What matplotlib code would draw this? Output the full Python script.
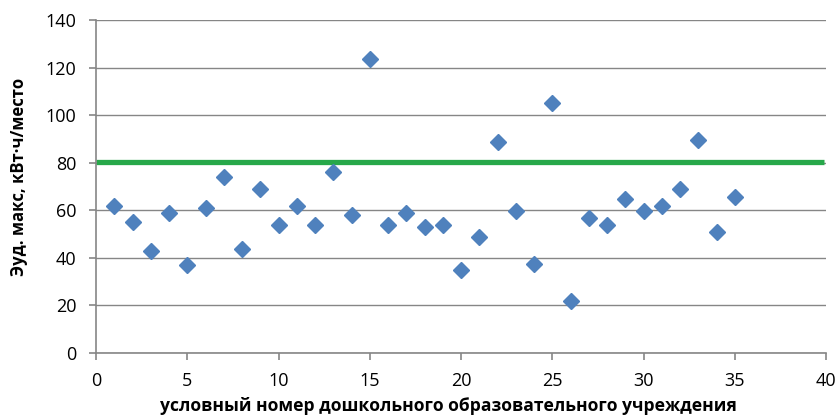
import matplotlib
matplotlib.use("Agg")
import matplotlib.pyplot as plt

plt.rcParams['font.family'] = ['Open Sans', 'DejaVu Sans']

# Номер учреждения и удельная максимальная нагрузка
institution = list(range(1, 36))
load_max = [61.6, 55.1, 43.0, 59.0, 36.9, 60.8, 73.9, 43.9, 68.8, 53.8,
            61.9, 53.8, 76.0, 57.9, 123.5, 53.7, 59.0, 52.8, 53.7, 34.9,
            48.8, 88.7, 59.8, 37.3, 105.1, 21.9, 56.8, 53.8, 64.7, 59.8,
            61.8, 68.8, 89.7, 50.9, 65.7]
norm_level = 80.2
norm_x = [0, 39.9]

x_ticks = [0, 5, 10, 15, 20, 25, 30, 35, 40]
y_ticks = [0, 20, 40, 60, 80, 100, 120, 140]

W, H = 839, 415
fig = plt.figure(figsize=(W / 100, H / 100), dpi=100)
ax = fig.add_axes([96 / W, 1 - 353 / H, 730 / W, 333 / H])

grid_color = '#868686'
ax.set_xlim(0, 40)
ax.set_ylim(0, 140)
ax.set_xticks(x_ticks)
ax.set_yticks(y_ticks)
ax.yaxis.grid(True, color=grid_color, linewidth=1.0)
ax.set_axisbelow(True)

ax.plot(norm_x, [norm_level, norm_level], color='#27a84a', linewidth=3.8,
        solid_capstyle='butt', zorder=2)
ax.plot(institution, load_max, linestyle='none', marker='D', markersize=8,
        color='#4f81bd', markeredgecolor='#4f81bd', zorder=3)

for side in ('top', 'right'):
    ax.spines[side].set_visible(False)
for side in ('left', 'bottom'):
    ax.spines[side].set_color(grid_color)
    ax.spines[side].set_linewidth(1.2)

ax.tick_params(axis='both', colors=grid_color, labelcolor='black',
               labelsize=13, length=5, width=1.2)
ax.tick_params(axis='x', pad=9)
ax.tick_params(axis='y', pad=9)

# Подписи осей
fig.text(448 / W, 1 - 406 / H,
         'условный номер дошкольного образовательного учреждения',
         fontsize=12.6, fontweight='bold', ha='center', va='center')
fig.text(19 / W, 1 - 177 / H, 'Эуд. макс, кВт·ч/место',
         fontsize=12, fontweight='bold', ha='center', va='center',
         rotation=90)

fig.savefig('out.png', dpi=100)
